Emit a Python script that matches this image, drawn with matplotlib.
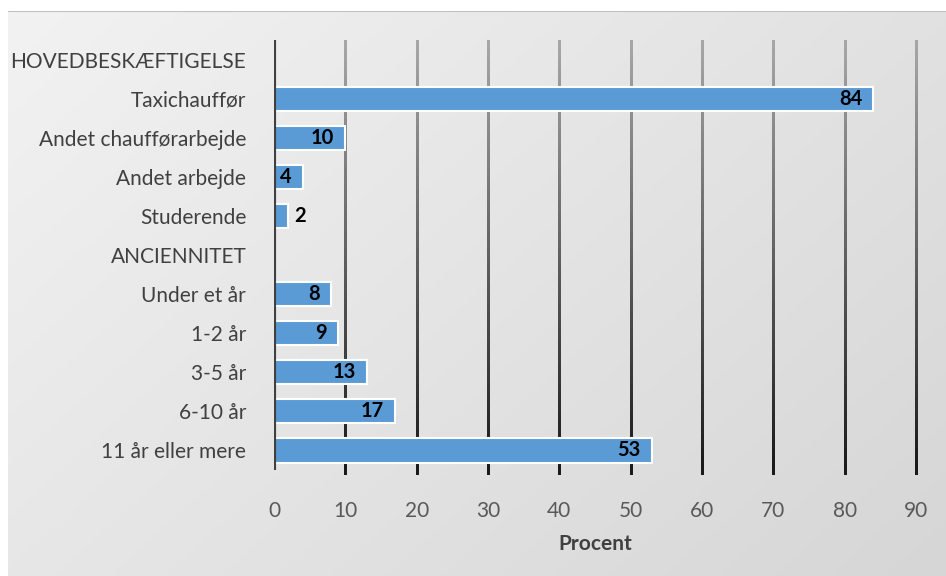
import matplotlib.pyplot as plt
import numpy as np
from matplotlib.collections import LineCollection
from matplotlib.colors import LinearSegmentedColormap

# Data
categories = ['HOVEDBESKÆFTIGELSE', 'Taxichauffør', 'Andet chaufførarbejde', 'Andet arbejde',
              'Studerende', 'ANCIENNITET', 'Under et år', '1-2 år', '3-5 år', '6-10 år',
              '11 år eller mere']
values = [None, 84, 10, 4, 2, None, 8, 9, 13, 17, 53]
xticks = [0, 10, 20, 30, 40, 50, 60, 70, 80, 90]

plt.rcParams['font.family'] = ['Lato', 'DejaVu Sans']

fig = plt.figure(figsize=(9.46, 5.76), dpi=100)

# gradient background panel
bg = fig.add_axes([8 / 946, 0, 1 - 8 / 946, 1 - 11 / 576], zorder=-10)
gx, gy = np.meshgrid(np.linspace(0, 1, 200), np.linspace(0, 1, 200))
grad = 0.6 * gx + 0.4 * gy
bg.imshow(grad, cmap=LinearSegmentedColormap.from_list('g', ['#f2f2f2', '#d6d6d6']),
          aspect='auto', extent=[0, 1, 0, 1], origin='upper')
bg.axhline(1, color='#bfbfbf', lw=1.5)
bg.set_axis_off()

ax = fig.add_axes([274 / 946, 1 - 470 / 576, (916 - 274) / 946, (470 - 40) / 576])
ax.patch.set_alpha(0)

ylo, yhi = len(categories) - 0.5, -0.5
y = np.arange(len(categories))
for i, v in enumerate(values):
    if v is None:
        continue
    ax.barh(i, v, height=0.62, color='#5b9bd5', edgecolor='white', linewidth=1.5, zorder=3)
    if v >= 4:
        ax.annotate(str(v), (v, i), xytext=(-8, 0), textcoords='offset points',
                    ha='right', va='center', fontsize=14.5, fontweight='bold', color='black', zorder=4)
    else:
        ax.annotate(str(v), (v, i), xytext=(4, 0), textcoords='offset points',
                    ha='left', va='center', fontsize=14.5, fontweight='bold', color='black', zorder=4)

ax.set_xlim(0, 90)
ax.set_ylim(ylo, yhi)
ax.set_yticks(y)
ax.set_yticklabels(categories, fontsize=15, color='#404040')
ax.set_xticks(xticks)
ax.set_xticklabels([str(t) for t in xticks], fontsize=15, color='#595959')
ax.tick_params(axis='both', length=0)
ax.tick_params(axis='y', pad=20)
ax.tick_params(axis='x', pad=22)

# gridlines fading from gray at the top to near black at the bottom
n = 60
edges = np.linspace(yhi, ylo, n + 1)
step = (ylo - yhi) / n
gcmap = LinearSegmentedColormap.from_list('gl', ['#a6a6a6', '#1a1a1a'])
for t in xticks[1:]:
    segs = [[(t, edges[k]), (t, edges[k + 1] + step * 0.6)] for k in range(n)]
    lc = LineCollection(segs, colors=gcmap(np.linspace(0, 1, n)), linewidths=1.8,
                        zorder=1, clip_on=False, capstyle='butt', antialiaseds=False)
    ax.add_collection(lc)
ax.axvline(0, color='#404040', lw=3, zorder=5)

for s in ax.spines.values():
    s.set_visible(False)

ax.set_xlabel('Procent', fontsize=15, fontweight='bold', color='#404040', labelpad=10)

plt.savefig('out.png', dpi=100)
